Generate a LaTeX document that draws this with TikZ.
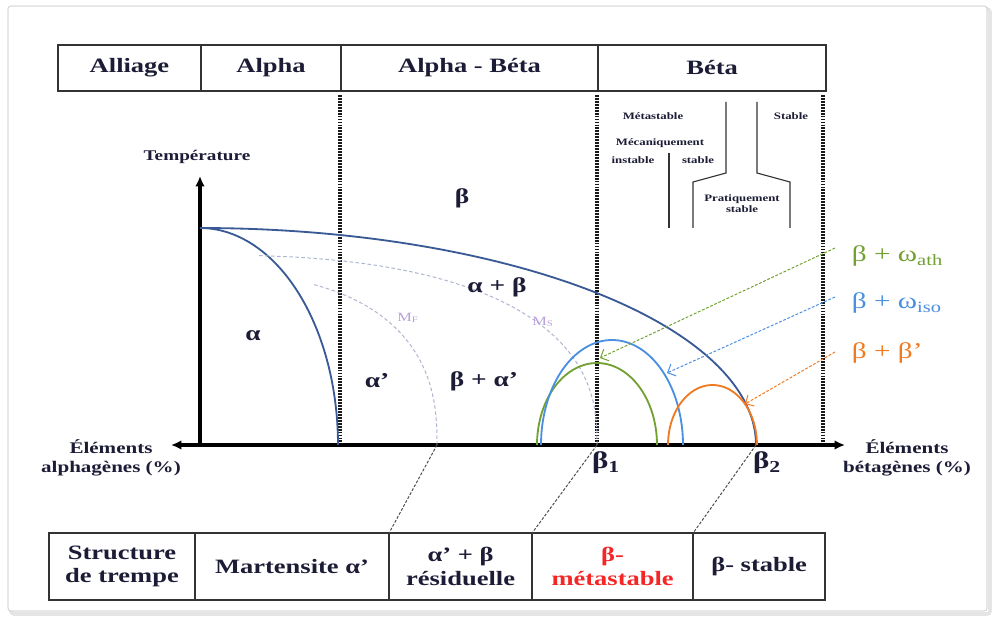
\documentclass[tikz,border=0pt]{standalone}
\usepackage{fontspec}
\setmainfont{Liberation Serif}[FakeStretch=1.3]
\usetikzlibrary{arrows.meta,positioning,calc}
\definecolor{transus}{HTML}{3A5A96}
\definecolor{encre}{HTML}{1C1C36}
\definecolor{omath}{HTML}{72A032}
\definecolor{omiso}{HTML}{4A8FE0}
\definecolor{betap}{HTML}{F07A22}
\definecolor{martens}{HTML}{AEB6CE}
\definecolor{msmf}{HTML}{B9A2DA}
\definecolor{metast}{HTML}{F52626}
\tikzset{
  hcell/.style={rectangle, draw=black!80, line width=1.3pt, align=center, text=encre, outer sep=0pt,
                font=\bfseries\fontsize{14.5}{16}\selectfont, minimum height=1.15cm, inner sep=0pt},
  bcell/.style={rectangle, draw=black!80, line width=1.3pt, align=center, text=encre, outer sep=0pt,
                font=\bfseries\fontsize{14.5}{16.5}\selectfont, minimum height=1.675cm, inner sep=0pt},
  phase/.style={text=encre, font=\bfseries\fontsize{15}{17}\selectfont, inner sep=1pt},
  petit/.style={text=encre, font=\bfseries\fontsize{7}{8}\selectfont, inner sep=0pt, align=center},
  axlab/.style={text=encre, font=\bfseries\fontsize{11.5}{13.5}\selectfont, align=center, inner sep=0pt},
  axe/.style={line width=2.2pt, black},
  limite/.style={line width=2.4pt, black!90, dash pattern=on 1.3pt off 0.8pt},
  courbe/.style={line width=1.3pt, draw=#1},
  marte/.style={line width=0.7pt, martens, dash pattern=on 2.5pt off 1.8pt},
  fleche/.style={-{Straight Barb[length=1.6mm]}, line width=0.7pt, draw=#1, dash pattern=on 2pt off 1.2pt},
  renvoi/.style={line width=0.7pt, black!70, dash pattern=on 2pt off 1.2pt},
  trait/.style={line width=0.8pt, black!80},
}

\begin{document}
\begin{tikzpicture}[x=0.025cm, y=-0.025cm]
    \useasboundingbox (0,0) rectangle (996,617);
    % cadre
    \draw[black!10, line width=2.5pt, rounded corners=2pt] (11,9) rectangle (990,614);
    \draw[black!25, fill=white, rounded corners=2pt] (8,6) rectangle (987,611);

    % tableau du haut
    \node[hcell, minimum width=3.575cm] (alliage) at (129.5,68) {Alliage};
    \node[hcell, minimum width=3.5cm, right=0pt of alliage] (alpha) {Alpha};
    \node[hcell, minimum width=6.425cm, right=0pt of alpha] (alphabeta) {Alpha - Béta};
    \node[hcell, minimum width=5.7cm, right=0pt of alphabeta] (beta) {Béta};

    % limites des domaines
    \foreach \xx in {340,597,823} \draw[limite] (\xx,95) -- (\xx,445);

    % axes
    \coordinate (O) at (200,445);
    \coordinate (haut) at (200,176);
    \coordinate (gauche) at (171,445);
    \coordinate (droite) at (845,445);
    \draw[axe, -{Latex[length=2.6mm,width=2.4mm]}] (O) -- (haut);
    \draw[axe, {Latex[length=2.6mm,width=2.4mm]}-{Latex[length=2.6mm,width=2.4mm]}] (gauche) -- (droite);
    \node[axlab, font=\bfseries\fontsize{10.5}{12}\selectfont] (temp) at (197,157) {Température};
    \node[axlab] (alphag) at (111,458) {Éléments\\alphagènes (\%)};
    \node[axlab] (betag) at (907,458) {Éléments\\bétagènes (\%)};

    % transus et alpha
    \draw[courbe=transus] plot[domain=90:0, samples=60, smooth] ({200+556*cos(\x)}, {445-217*sin(\x)});
    \draw[courbe=transus] plot[domain=90:0, samples=40, smooth] ({200+138*cos(\x)}, {445-217*sin(\x)});

    % Ms et Mf
    \draw[marte] (597,445) -- plot[domain=0.5:84.9, samples=50, smooth] ({200+397*cos(\x)^0.8}, {445-190*sin(\x)^0.8});
    \draw[marte] (437,445) -- plot[domain=0.5:66.9, samples=40, smooth] ({200+237*cos(\x)^0.8}, {445-172*sin(\x)^0.8});
    \node[text=msmf, font=\fontsize{9}{10}\selectfont] (mf) at (408,318) {M\textsubscript{F}};
    \node[text=msmf, font=\fontsize{9}{10}\selectfont] (ms) at (543,322) {M\textsubscript{S}};

    % domes
    \draw[courbe=omath] plot[domain=0:180, samples=50, smooth] ({597+60*cos(\x)}, {445-82*sin(\x)});
    \draw[courbe=omiso] plot[domain=0:180, samples=50, smooth] ({612+71*cos(\x)}, {445-105*sin(\x)});
    \draw[courbe=betap] plot[domain=0:180, samples=50, smooth] ({712.5+44.5*cos(\x)}, {445-60*sin(\x)});

    % phases
    \node[phase] (b) at (462,198) {β};
    \node[phase] (ab) at (497,287) {α + β};
    \node[phase] (a) at (253,336) {α};
    \node[phase] (ap) at (377,381) {α'};
    \node[phase] (bap) at (484,381) {β + α'};
    \node[phase, font=\bfseries\fontsize{17}{18}\selectfont, anchor=north] (b1) at (606,450) {β\textsubscript{1}};
    \node[phase, font=\bfseries\fontsize{17}{18}\selectfont, anchor=north] (b2) at (767,450) {β\textsubscript{2}};

    % legende a droite
    \node[text=omath, font=\fontsize{16}{18}\selectfont, anchor=west] (lath) at (847,256) {β + ω\textsubscript{ath}};
    \node[text=omiso, font=\fontsize{16}{18}\selectfont, anchor=west] (liso) at (847,303) {β + ω\textsubscript{iso}};
    \node[text=betap, font=\fontsize{16}{18}\selectfont, anchor=west] (lbp) at (847,353) {β + β'};
    \coordinate (path) at (600,358);
    \coordinate (piso) at (667,373);
    \coordinate (pbp) at (745,404);
    \draw[fleche=omath] ($(lath.west)+(-12,-8)$) -- (path);
    \draw[fleche=omiso] ($(liso.west)+(-12,-6)$) -- (piso);
    \draw[fleche=betap] ($(lbp.west)+(-12,-1)$) -- (pbp);

    % stabilite
    \node[petit] (meta) at (653,116) {Métastable};
    \node[petit] (stab) at (791,116) {Stable};
    \node[petit] (meca) at (660,143) {Mécaniquement};
    \node[petit] (inst) at (633,160) {instable};
    \node[petit] (mst) at (698,160) {stable};
    \node[petit] (prat) at (742,204) {Pratiquement\\stable};
    \draw[trait] (726,102) -- (726,173) -- (693,182) -- (693,228);
    \draw[trait] (757,102) -- (757,173) -- (790,182) -- (790,228);
    \draw[trait] (669,153) -- (669,228);

    % tableau du bas
    \node[bcell, minimum width=3.65cm] (trempe) at (122,566.5) {Structure\\de trempe};
    \node[bcell, minimum width=4.85cm, right=0pt of trempe] (mart) {Martensite α'};
    \node[bcell, minimum width=3.575cm, right=0pt of mart] (resid) {α' + β\\résiduelle};
    \node[bcell, minimum width=4.025cm, right=0pt of resid, text=metast] (bmeta) {β-\\métastable};
    \node[bcell, minimum width=3.3cm, right=0pt of bmeta] (bstab) {β- stable};

    % renvois
    \coordinate (mf0) at (437,445);
    \coordinate (beta1) at (597,445);
    \coordinate (beta2) at (756,445);
    \draw[renvoi] (mf0) -- (resid.north west);
    \draw[renvoi] (beta1) -- (bmeta.north west);
    \draw[renvoi] (beta2) -- (bstab.north west);
  \end{tikzpicture}
\end{document}
